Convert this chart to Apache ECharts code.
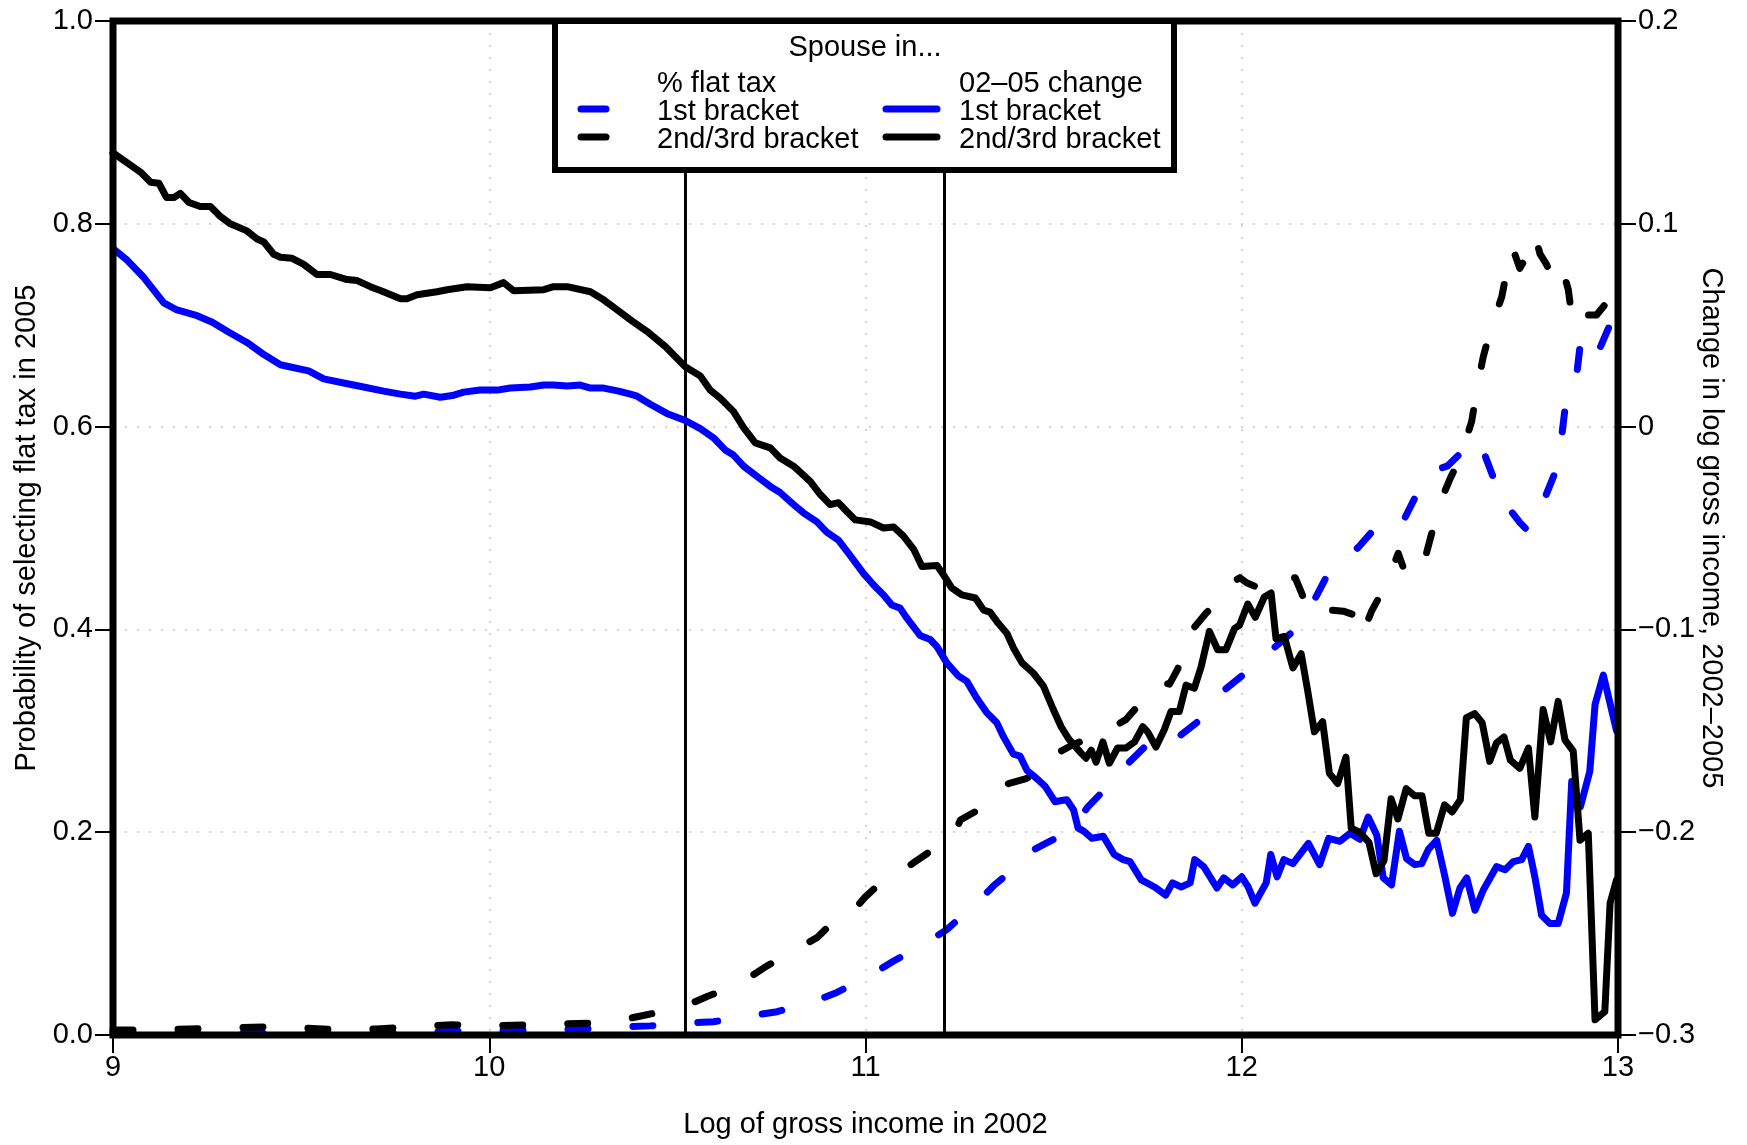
<!DOCTYPE html>
<html><head><meta charset="utf-8">
<script src="https://cdn.jsdelivr.net/npm/echarts@6/dist/echarts.min.js"></script>
<style>html,body{margin:0;padding:0;background:#fff}#c{width:1747px;height:1145px}</style>
</head><body><div id="c"></div><script>
// ---- data (x = log of gross income in 2002) ----
// % flat tax, spouse in 1st bracket (left axis)
const flatTax1st = [[9.0,0.002],[9.2,0.002],[9.4,0.002],[9.6,0.002],[9.8,0.003],[10.0,0.004],[10.1,0.005],[10.25,0.006],[10.353,0.008],[10.428,0.009],[10.526,0.012],[10.596,0.013],[10.694,0.019],[10.765,0.023],[10.862,0.033],[10.924,0.042],[11.013,0.059],[11.075,0.073],[11.159,0.090],[11.216,0.104],[11.292,0.129],[11.340,0.147],[11.416,0.171],[11.438,0.181],[11.469,0.187],[11.51,0.195],[11.549,0.204],[11.591,0.225],[11.625,0.238],[11.662,0.250],[11.701,0.269],[11.75,0.287],[11.803,0.301],[11.825,0.300],[11.839,0.296],[11.88,0.308],[11.914,0.319],[11.950,0.339],[11.99,0.351],[12.029,0.363],[12.050,0.373],[12.074,0.378],[12.105,0.388],[12.136,0.398],[12.175,0.417],[12.20,0.434],[12.224,0.451],[12.245,0.460],[12.266,0.467],[12.288,0.474],[12.310,0.481],[12.350,0.498],[12.38,0.497],[12.416,0.497],[12.447,0.520],[12.47,0.537],[12.491,0.553],[12.52,0.558],[12.546,0.561],[12.585,0.575],[12.620,0.587],[12.632,0.586],[12.651,0.567],[12.685,0.534],[12.705,0.516],[12.717,0.516],[12.74,0.505],[12.761,0.497],[12.793,0.518],[12.832,0.554],[12.846,0.577],[12.859,0.617],[12.886,0.638],[12.899,0.679],[12.925,0.661],[12.955,0.680],[12.978,0.700],[12.996,0.679]];
// % flat tax, spouse in 2nd/3rd bracket (left axis)
const flatTax23 = [[9.0,0.005],[9.1,0.005],[9.2,0.006],[9.3,0.007],[9.4,0.008],[9.5,0.007],[9.6,0.005],[9.7,0.006],[9.8,0.008],[9.9,0.010],[10.0,0.009],[10.1,0.010],[10.2,0.011],[10.3,0.012],[10.353,0.015],[10.419,0.020],[10.517,0.028],[10.579,0.038],[10.63,0.045],[10.672,0.052],[10.729,0.066],[10.77,0.075],[10.818,0.085],[10.871,0.096],[10.91,0.110],[10.946,0.123],[10.968,0.123],[10.999,0.136],[11.04,0.150],[11.075,0.159],[11.101,0.163],[11.132,0.171],[11.18,0.183],[11.216,0.191],[11.234,0.196],[11.252,0.212],[11.30,0.222],[11.340,0.230],[11.380,0.248],[11.42,0.252],[11.464,0.258],[11.500,0.276],[11.55,0.286],[11.60,0.294],[11.65,0.302],[11.692,0.311],[11.737,0.330],[11.76,0.340],[11.786,0.348],[11.808,0.346],[11.830,0.361],[11.865,0.398],[11.905,0.416],[11.94,0.428],[11.969,0.437],[11.978,0.447],[11.995,0.451],[12.013,0.446],[12.05,0.440],[12.089,0.441],[12.115,0.451],[12.142,0.451],[12.16,0.435],[12.177,0.418],[12.20,0.420],[12.218,0.414],[12.237,0.419],[12.27,0.418],[12.301,0.414],[12.319,0.393],[12.345,0.418],[12.376,0.439],[12.40,0.460],[12.416,0.475],[12.438,0.452],[12.46,0.455],[12.483,0.464],[12.500,0.488],[12.527,0.525],[12.553,0.548],[12.575,0.565],[12.593,0.584],[12.611,0.605],[12.629,0.645],[12.642,0.669],[12.655,0.687],[12.669,0.704],[12.691,0.728],[12.70,0.745],[12.713,0.771],[12.72,0.776],[12.739,0.756],[12.76,0.770],[12.779,0.789],[12.793,0.770],[12.81,0.760],[12.819,0.752],[12.842,0.740],[12.855,0.752],[12.868,0.735],[12.877,0.709],[12.89,0.700],[12.899,0.697],[12.92,0.710],[12.943,0.710],[12.965,0.720],[12.983,0.735],[12.996,0.758]];
// 02-05 change in log gross income, spouse in 1st bracket (right axis)
const change1st = [[9.002,0.0875],[9.038,0.082],[9.082,0.0735],[9.135,0.061],[9.170,0.0575],[9.219,0.055],[9.264,0.0515],[9.308,0.0465],[9.356,0.0415],[9.401,0.0355],[9.445,0.0305],[9.481,0.029],[9.520,0.0275],[9.560,0.0235],[9.613,0.0215],[9.666,0.0195],[9.719,0.0175],[9.764,0.016],[9.804,0.015],[9.826,0.016],[9.870,0.0145],[9.906,0.0155],[9.932,0.017],[9.976,0.018],[10.021,0.018],[10.056,0.019],[10.109,0.0195],[10.145,0.0205],[10.171,0.0205],[10.207,0.020],[10.242,0.0205],[10.269,0.019],[10.304,0.019],[10.344,0.0175],[10.375,0.016],[10.393,0.015],[10.428,0.011],[10.472,0.0065],[10.521,0.003],[10.561,-0.001],[10.596,-0.0055],[10.627,-0.0115],[10.649,-0.014],[10.676,-0.0195],[10.711,-0.0245],[10.747,-0.0295],[10.773,-0.0325],[10.809,-0.0385],[10.835,-0.0425],[10.871,-0.047],[10.897,-0.052],[10.928,-0.056],[10.959,-0.0635],[10.995,-0.0725],[11.021,-0.078],[11.048,-0.083],[11.070,-0.088],[11.092,-0.0895],[11.110,-0.0945],[11.145,-0.103],[11.172,-0.105],[11.190,-0.1085],[11.216,-0.1165],[11.247,-0.123],[11.269,-0.1255],[11.296,-0.134],[11.322,-0.141],[11.349,-0.146],[11.367,-0.153],[11.393,-0.1615],[11.411,-0.1625],[11.429,-0.1695],[11.455,-0.1735],[11.478,-0.1775],[11.504,-0.185],[11.517,-0.1845],[11.535,-0.184],[11.553,-0.189],[11.565,-0.198],[11.580,-0.1995],[11.602,-0.203],[11.632,-0.202],[11.661,-0.211],[11.685,-0.2135],[11.703,-0.2145],[11.733,-0.2235],[11.768,-0.227],[11.798,-0.231],[11.816,-0.225],[11.839,-0.227],[11.863,-0.225],[11.875,-0.2135],[11.899,-0.217],[11.934,-0.2275],[11.952,-0.2225],[11.976,-0.226],[12.000,-0.222],[12.017,-0.227],[12.035,-0.235],[12.065,-0.225],[12.077,-0.211],[12.094,-0.222],[12.112,-0.2135],[12.136,-0.2155],[12.177,-0.2055],[12.207,-0.216],[12.231,-0.203],[12.261,-0.2045],[12.288,-0.2005],[12.314,-0.2035],[12.336,-0.1925],[12.359,-0.2015],[12.376,-0.2225],[12.398,-0.226],[12.419,-0.1995],[12.438,-0.213],[12.460,-0.216],[12.478,-0.2155],[12.496,-0.2085],[12.518,-0.204],[12.540,-0.222],[12.560,-0.240],[12.580,-0.2275],[12.598,-0.2225],[12.620,-0.2385],[12.642,-0.2285],[12.677,-0.217],[12.700,-0.2185],[12.722,-0.2145],[12.744,-0.2135],[12.762,-0.207],[12.779,-0.222],[12.797,-0.241],[12.819,-0.245],[12.841,-0.245],[12.863,-0.230],[12.877,-0.175],[12.900,-0.1875],[12.925,-0.170],[12.939,-0.137],[12.961,-0.1225],[12.996,-0.150]];
// 02-05 change in log gross income, spouse in 2nd/3rd bracket (right axis)
const change23 = [[9.0,0.135],[9.038,0.130],[9.073,0.1255],[9.100,0.1205],[9.122,0.120],[9.142,0.113],[9.162,0.113],[9.179,0.115],[9.202,0.1105],[9.232,0.1085],[9.259,0.1085],[9.286,0.1035],[9.312,0.100],[9.356,0.0965],[9.383,0.0925],[9.401,0.091],[9.427,0.085],[9.445,0.0835],[9.476,0.083],[9.507,0.080],[9.542,0.075],[9.578,0.075],[9.622,0.0725],[9.649,0.072],[9.684,0.069],[9.719,0.0665],[9.764,0.063],[9.781,0.063],[9.808,0.065],[9.861,0.0665],[9.888,0.0675],[9.941,0.069],[10.003,0.0685],[10.038,0.071],[10.065,0.067],[10.145,0.0675],[10.171,0.069],[10.207,0.069],[10.269,0.0665],[10.304,0.0625],[10.344,0.057],[10.38,0.052],[10.419,0.047],[10.468,0.0395],[10.521,0.0295],[10.561,0.025],[10.587,0.018],[10.614,0.014],[10.649,0.0075],[10.676,-0.0005],[10.707,-0.008],[10.747,-0.0105],[10.773,-0.0155],[10.809,-0.0195],[10.853,-0.027],[10.880,-0.0335],[10.906,-0.0385],[10.928,-0.0375],[10.951,-0.042],[10.973,-0.046],[11.013,-0.047],[11.048,-0.050],[11.075,-0.0495],[11.101,-0.054],[11.128,-0.0605],[11.150,-0.069],[11.190,-0.0685],[11.207,-0.073],[11.229,-0.0795],[11.256,-0.083],[11.292,-0.0845],[11.314,-0.0905],[11.331,-0.0915],[11.353,-0.097],[11.376,-0.102],[11.393,-0.109],[11.416,-0.1165],[11.446,-0.1215],[11.473,-0.128],[11.498,-0.139],[11.520,-0.148],[11.540,-0.154],[11.573,-0.161],[11.586,-0.1635],[11.600,-0.1595],[11.613,-0.1655],[11.631,-0.1555],[11.648,-0.166],[11.670,-0.1585],[11.692,-0.1585],[11.715,-0.1555],[11.737,-0.148],[11.750,-0.1505],[11.772,-0.158],[11.794,-0.1495],[11.812,-0.1405],[11.834,-0.1405],[11.852,-0.1275],[11.874,-0.129],[11.892,-0.1185],[11.914,-0.101],[11.936,-0.110],[11.958,-0.110],[11.981,-0.0995],[11.994,-0.098],[12.016,-0.0875],[12.036,-0.094],[12.060,-0.084],[12.078,-0.082],[12.091,-0.1045],[12.113,-0.1035],[12.136,-0.119],[12.158,-0.112],[12.175,-0.130],[12.193,-0.1505],[12.215,-0.1455],[12.233,-0.171],[12.255,-0.176],[12.277,-0.163],[12.291,-0.198],[12.313,-0.200],[12.338,-0.205],[12.357,-0.2205],[12.378,-0.214],[12.397,-0.1835],[12.415,-0.1935],[12.437,-0.1785],[12.459,-0.182],[12.479,-0.182],[12.497,-0.2005],[12.517,-0.2005],[12.539,-0.1865],[12.559,-0.190],[12.581,-0.184],[12.597,-0.1435],[12.619,-0.1415],[12.639,-0.146],[12.659,-0.165],[12.677,-0.156],[12.697,-0.153],[12.714,-0.1645],[12.739,-0.1685],[12.762,-0.1585],[12.779,-0.1925],[12.801,-0.1395],[12.821,-0.1555],[12.841,-0.1355],[12.859,-0.1545],[12.881,-0.160],[12.899,-0.204],[12.921,-0.2005],[12.939,-0.2925],[12.965,-0.2885],[12.979,-0.235],[12.996,-0.2235]];
// bracket thresholds (log income)
const thresholds = [10.5187, 11.2118];
// axes
const xTicks = {min: 9, max: 13, step: 1};
const leftTicks = {min: 0, max: 1, step: 0.2};
const rightTicks = {min: -0.3, max: 0.2, step: 0.1};
const xTitle = 'Log of gross income in 2002';
const leftTitle = 'Probability of selecting flat tax in 2005';
const rightTitle = 'Change in log gross income, 2002\u20132005';
const legendTitle = 'Spouse in...';
const legendCols = ['% flat tax', '02\u201305 change'];
const legendRows = ['1st bracket', '2nd/3rd bracket'];

const FONT = '"Liberation Sans", Arial, Helvetica, sans-serif';
const FS = 29;
const BLUE = '#0000ff', BLACK = '#000000';
const DASH = [20, 45];
const LW = 7;

const chart = echarts.init(document.getElementById('c'), null, {renderer: 'canvas'});
const txt = {color: '#000', fontSize: FS, fontFamily: FONT};
const gridSplit = {show: true, showMinLine: false, showMaxLine: false, lineStyle: {color: '#d3d3d3', width: 2, type: [2, 10]}};

function lineSeries(name, data, color, dashed, yIdx, z) {
  return {
    name, type: 'line', data, yAxisIndex: yIdx, showSymbol: false, symbol: 'none',
    z, silent: true,
    lineStyle: {color, width: LW, type: dashed ? DASH : 'solid', cap: 'round', join: 'round'}
  };
}

const G = {left: 113, right: 129, top: 21, bottom: 110};
const W = 1747, H = 1145;

const option = {
  animation: false,
  backgroundColor: '#fff',
  grid: Object.assign({show: false}, G),
  xAxis: {
    type: 'value', min: xTicks.min, max: xTicks.max, interval: xTicks.step,
    axisLine: {show: false},
    axisTick: {show: true, length: 18, lineStyle: {color: '#000', width: 2}},
    axisLabel: Object.assign({margin: 18}, txt),
    splitLine: gridSplit,
    name: xTitle, nameLocation: 'middle', nameGap: 75, nameMoveOverlap: false, nameTextStyle: txt
  },
  yAxis: [{
    type: 'value', min: leftTicks.min, max: leftTicks.max, interval: leftTicks.step,
    axisLine: {show: false},
    axisTick: {show: true, length: 18, lineStyle: {color: '#000', width: 2}},
    axisLabel: Object.assign({margin: 20, formatter: v => v.toFixed(1)}, txt),
    splitLine: gridSplit,
    name: leftTitle, nameLocation: 'middle', nameGap: 72, nameRotate: 90, nameMoveOverlap: false, nameTextStyle: txt
  }, {
    type: 'value', position: 'right', min: rightTicks.min, max: rightTicks.max, interval: rightTicks.step,
    axisLine: {show: false},
    axisTick: {show: true, length: 18, lineStyle: {color: '#000', width: 2}},
    axisLabel: Object.assign({margin: 20, formatter: v => {
      const r = Math.round(v * 10) / 10;
      if (r === 0) return '0';
      return (r < 0 ? '\u2212' : '') + Math.abs(r).toFixed(1);
    }}, txt),
    splitLine: {show: false},
    name: rightTitle, nameLocation: 'middle', nameGap: 78, nameRotate: -90, nameMoveOverlap: false, nameTextStyle: txt
  }],
  series: [
    lineSeries('% flat tax: 1st bracket', flatTax1st, BLUE, true, 0, 3),
    lineSeries('% flat tax: 2nd/3rd bracket', flatTax23, BLACK, true, 0, 4),
    lineSeries('02-05 change: 1st bracket', change1st, BLUE, false, 1, 5),
    lineSeries('02-05 change: 2nd/3rd bracket', change23, BLACK, false, 1, 6),
    {
      type: 'line', data: [], yAxisIndex: 0, z: 7, silent: true,
      markLine: {
        silent: true, symbol: ['none', 'none'], animation: false,
        label: {show: false},
        lineStyle: {color: '#000', width: 3, type: 'solid'},
        data: thresholds.map(t => ({xAxis: t}))
      }
    }
  ],
  graphic: [
    {type: 'rect', z: 90, silent: true,
     shape: {x: G.left, y: G.top, width: W - G.left - G.right, height: H - G.top - G.bottom},
     style: {fill: 'none', stroke: '#000', lineWidth: 7}},
    {
    type: 'group', z: 100,
    children: [
      {type: 'rect', shape: {x: 555, y: 21, width: 619, height: 149}, style: {fill: '#fff', stroke: '#000', lineWidth: 6}, z: 100},
      {type: 'text', x: 865, y: 48, z: 101, style: {text: legendTitle, fill: '#000', font: FS + 'px ' + FONT, align: 'center', verticalAlign: 'middle'}},
      {type: 'text', x: 657, y: 84, z: 101, style: {text: legendCols[0], fill: '#000', font: FS + 'px ' + FONT, align: 'left', verticalAlign: 'middle'}},
      {type: 'text', x: 657, y: 112, z: 101, style: {text: legendRows[0], fill: '#000', font: FS + 'px ' + FONT, align: 'left', verticalAlign: 'middle'}},
      {type: 'text', x: 657, y: 140, z: 101, style: {text: legendRows[1], fill: '#000', font: FS + 'px ' + FONT, align: 'left', verticalAlign: 'middle'}},
      {type: 'text', x: 959, y: 84, z: 101, style: {text: legendCols[1], fill: '#000', font: FS + 'px ' + FONT, align: 'left', verticalAlign: 'middle'}},
      {type: 'text', x: 959, y: 112, z: 101, style: {text: legendRows[0], fill: '#000', font: FS + 'px ' + FONT, align: 'left', verticalAlign: 'middle'}},
      {type: 'text', x: 959, y: 140, z: 101, style: {text: legendRows[1], fill: '#000', font: FS + 'px ' + FONT, align: 'left', verticalAlign: 'middle'}},
      {type: 'line', z: 101, shape: {x1: 581, y1: 109, x2: 606, y2: 109}, style: {stroke: BLUE, lineWidth: LW, lineCap: 'round'}},
      {type: 'line', z: 101, shape: {x1: 581, y1: 137, x2: 606, y2: 137}, style: {stroke: BLACK, lineWidth: LW, lineCap: 'round'}},
      {type: 'line', z: 101, shape: {x1: 886, y1: 109, x2: 937, y2: 109}, style: {stroke: BLUE, lineWidth: LW, lineCap: 'round'}},
      {type: 'line', z: 101, shape: {x1: 886, y1: 137, x2: 937, y2: 137}, style: {stroke: BLACK, lineWidth: LW, lineCap: 'round'}}
    ]
  }]
};
chart.setOption(option);
</script></body></html>
